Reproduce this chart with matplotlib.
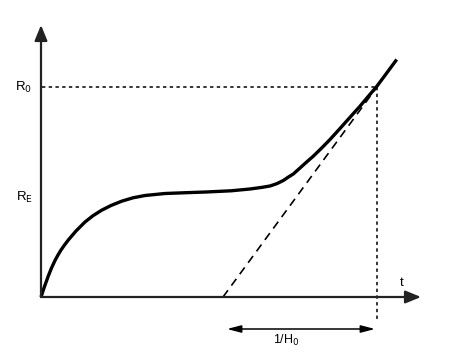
import matplotlib
matplotlib.use("Agg")
import matplotlib.pyplot as plt

plt.rcParams['font.family'] = ['Liberation Sans', 'DejaVu Sans']

# Curve R(t) (arbitrary units)
t_curve = [0, 3.5, 7.3, 10.5, 14, 17, 20, 23.5, 27.3, 35, 44, 52, 60.7, 70, 80.7, 92, 104, 124,
           145, 165, 190, 209, 220, 229, 236, 242.3, 247, 252.3, 257, 262.3, 267, 272.3,
           280.7, 289, 299, 309, 319, 327, 335.7, 345, 355.7]
R_curve = [0, 10.5, 21, 29, 36.5, 42, 47, 52, 57, 66, 75, 81.3, 86.8, 91.5, 95.8, 99.2, 101.5, 103.5,
           104.3, 105, 106.2, 108, 109.5, 111, 113.4, 116.5, 119.7, 123, 127.2, 132, 136.2, 140.8,
           149, 157.5, 168.5, 179.7, 190.8, 200.3, 210.5, 223, 237.5]

R0 = 210          # level R0
RE = 100          # level R_E (label)
t_R0 = 336        # time where curve reaches R0
t_tangent0 = 182  # where tangent line meets t axis
t_axis_end = 380
R_axis_end = 272

fig = plt.figure(figsize=(4.5, 3.58), dpi=100)
ax = fig.add_axes([0, 0, 1, 1])
ax.set_xlim(-41, 409)
ax.set_ylim(-61, 297)
ax.axis('off')

axis_col = '#222222'
# axes with arrows
ax.annotate('', xy=(t_axis_end, 0), xytext=(0, 0),
            arrowprops=dict(arrowstyle='-|>,head_length=0.94,head_width=0.385',
                            mutation_scale=10, lw=1.6, color=axis_col,
                            shrinkA=0, shrinkB=0))
ax.annotate('', xy=(0, R_axis_end), xytext=(0, 0),
            arrowprops=dict(arrowstyle='-|>,head_length=0.94,head_width=0.385',
                            mutation_scale=10, lw=1.6, color=axis_col,
                            shrinkA=0, shrinkB=0))

# dotted R0 guides
ax.plot([1, t_R0], [R0, R0], color='black', lw=1.1, linestyle=(0, (2.2, 2.2)))
ax.plot([t_R0, t_R0], [R0, -25], color='black', lw=1.1, linestyle=(0, (2.2, 2.2)))

# tangent dashed line
ax.plot([t_tangent0, t_R0], [0, R0], color='black', lw=1.2, linestyle=(0, (5, 3.5)))

# main curve
ax.plot(t_curve, R_curve, color='black', lw=2.4, solid_capstyle='butt',
        solid_joinstyle='round')

# 1/H0 double arrow
ax.annotate('', xy=(334, -32), xytext=(186, -32),
            arrowprops=dict(arrowstyle='<|-|>,head_length=0.84,head_width=0.22',
                            mutation_scale=10, lw=1.1, color='black',
                            shrinkA=0, shrinkB=0))

# labels
fs = 9.5
ax.text(-18, R0, r'R$_0$', fontsize=fs, ha='center', va='center')
ax.text(-17, RE, r'R$_\mathrm{E}$', fontsize=fs, ha='center', va='center')
ax.text(360.7, 13.7, 't', fontsize=fs, ha='center', va='center')
ax.text(245.7, -43, r'1/H$_0$', fontsize=9, ha='center', va='center')

fig.savefig('out.png', dpi=100)
